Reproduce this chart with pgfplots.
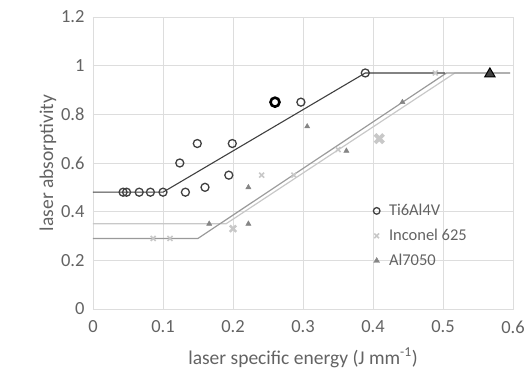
\documentclass[border=0pt]{standalone}
\usepackage{fontspec}
\setmainfont{Carlito}
\usepackage{pgfplots}
\pgfplotsset{compat=1.18}
\definecolor{txt}{HTML}{636363}
\definecolor{gridc}{HTML}{DDDDDD}
\definecolor{tiC}{HTML}{404040}
\definecolor{inC}{HTML}{C8C8C8}
\definecolor{alC}{HTML}{858585}
\definecolor{lnMid}{HTML}{9A9A9A}
\definecolor{lnLight}{HTML}{C8C8C8}
\begin{document}
\begin{tikzpicture}
\begin{axis}[
  scale only axis, width=420pt, height=292pt,
  xmin=0, xmax=0.6, ymin=0, ymax=1.2,
  xtick={0,0.1,...,0.6}, ytick={0,0.2,...,1.2},
  xticklabels={0,0.1,0.2,0.3,0.4,0.5,0.6},
  yticklabels={0,0.2,0.4,0.6,0.8,1,1.2},
  grid=major, major grid style={gridc, line width=0.8pt},
  axis line style={gridc, line width=0.8pt},
  tick style={draw=none},
  tick label style={font=\fontsize{18.5}{20}\selectfont, text=txt},
  /pgf/number format/assume math mode=true,
  xticklabel style={yshift=-8pt},
  yticklabel style={xshift=-5pt},
  xlabel={laser specific energy (J mm\textsuperscript{-1})},
  ylabel={laser absorptivity},
  label style={font=\fontsize{19.5}{22}\selectfont, text=txt},
  xlabel style={yshift=-8pt},
  ylabel style={yshift=-2pt},
  legend style={draw=none, fill=none, font=\fontsize{16.5}{19}\selectfont, text=txt,
    at={(axis cs:0.396,0.447)}, anchor=north west, row sep=8pt,
    legend cell align=left},
  legend image code/.code={\draw[mark repeat=2,mark phase=2,#1,mark size=3.3pt] plot coordinates {(0cm,0cm)(0.3cm,0cm)(0.6cm,0cm)};},
  legend entries={\hspace{7pt}Ti6Al4V, \hspace{7pt}Inconel 625, \hspace{7pt}Al7050},
  clip=false,
]
% markers with legend
\addplot[only marks, mark=o, mark size=4pt, mark options={draw=tiC, line width=1.3pt}]
 coordinates {(0.043,0.48)(0.048,0.48)(0.066,0.48)(0.082,0.48)(0.100,0.48)(0.132,0.48)
 (0.160,0.50)(0.124,0.60)(0.149,0.68)(0.199,0.68)(0.194,0.55)(0.297,0.85)(0.389,0.97)};
\addplot[only marks, mark=x, mark size=3.5pt, mark options={draw=inC, line width=1.6pt}]
 coordinates {(0.086,0.29)(0.110,0.29)(0.241,0.55)(0.287,0.55)(0.350,0.655)(0.489,0.97)};
\addplot[only marks, mark=triangle*, mark size=3pt, mark options={draw=alC, fill=alC}]
 coordinates {(0.166,0.35)(0.222,0.35)(0.222,0.50)(0.306,0.75)(0.362,0.65)(0.442,0.85)};
% lines
\addplot[forget plot, lnLight, line width=1.2pt] coordinates {(0,0.35)(0.19,0.35)(0.517,0.97)(0.596,0.97)};
\addplot[forget plot, lnMid, line width=1.2pt] coordinates {(0,0.29)(0.15,0.29)(0.505,0.97)(0.596,0.97)};
\addplot[forget plot, tiC, line width=1.1pt] coordinates {(0,0.48)(0.10,0.48)(0.389,0.97)(0.503,0.97)};
% special markers
\addplot[forget plot, only marks, mark=o, mark size=4.5pt, mark options={draw=black, line width=2.6pt}]
 coordinates {(0.26,0.85)};
\addplot[forget plot, only marks, mark=x, mark size=4.5pt, mark options={draw=inC, line width=2.4pt}]
 coordinates {(0.200,0.33)};
\addplot[forget plot, only marks, mark=x, mark size=6pt, mark options={draw=inC, line width=3.8pt}]
 coordinates {(0.409,0.70)};
\addplot[forget plot, only marks, mark=triangle*, mark size=6pt, mark options={draw=black, fill=tiC, line width=1pt}]
 coordinates {(0.567,0.966)};
\end{axis}
\pgfresetboundingbox
\path (current axis.south west) ++(-93pt,-72pt) coordinate (bbA);
\path (current axis.north east) ++(12pt,17pt) coordinate (bbB);
\path[use as bounding box] (bbA) rectangle (bbB);
\end{tikzpicture}
\end{document}
